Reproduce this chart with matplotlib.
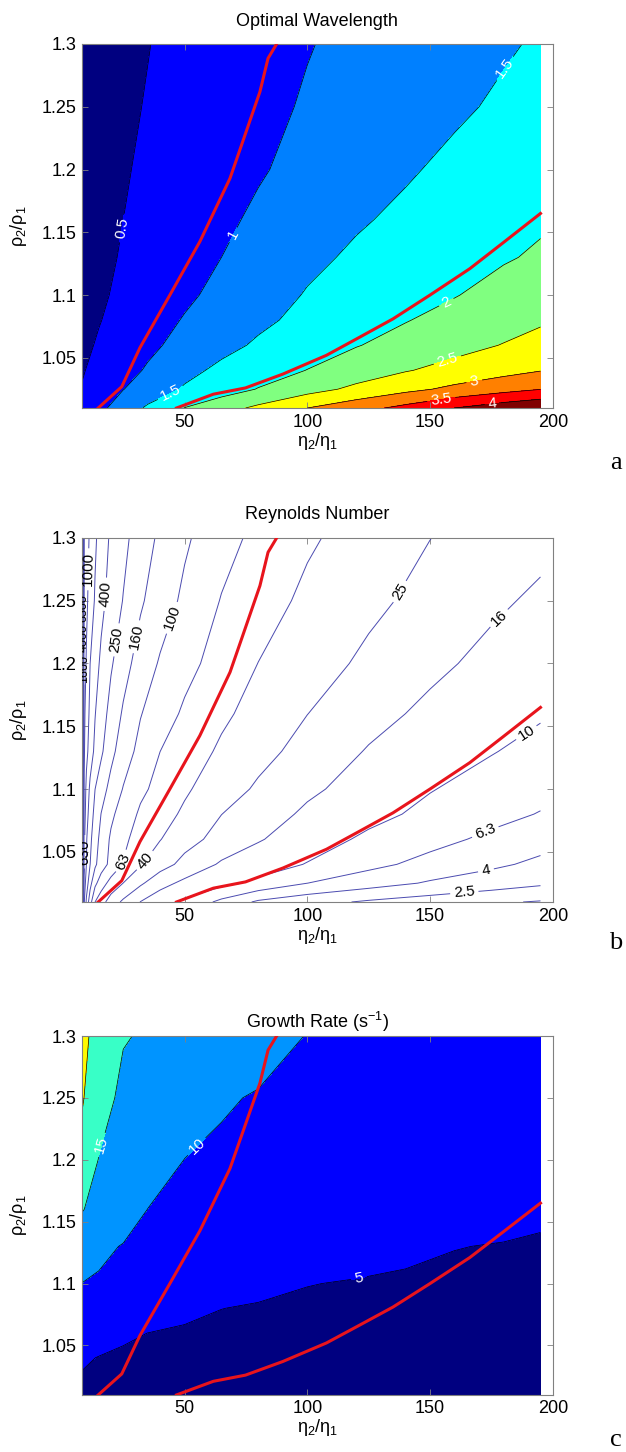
import numpy as np
import matplotlib
matplotlib.use("Agg")
import matplotlib.pyplot as plt

plt.rcParams["font.family"] = ["Liberation Sans", "DejaVu Sans"]
plt.rcParams["mathtext.fontset"] = "custom"
plt.rcParams["mathtext.rm"] = "Liberation Sans"
plt.rcParams["mathtext.it"] = "Liberation Sans:italic"
plt.rcParams["mathtext.default"] = "regular"

# sample grid: viscosity ratio (columns) x density ratio (rows)
eta_ratio = np.array([8.2, 15, 25, 35, 50, 65, 80, 100, 120, 140, 160, 180, 195])
rho_ratio = np.array([1.01, 1.025, 1.04, 1.06, 1.08, 1.1, 1.13, 1.16, 1.2, 1.25, 1.3])

# optimal wavelength
wavelength = np.array([
    [0.62, 0.87, 1.24, 1.57, 2.01, 2.31, 2.60, 3.00, 3.31, 3.64, 4.00, 4.28, 4.45],
    [0.52, 0.71, 0.99, 1.22, 1.55, 1.78, 2.02, 2.32, 2.61, 2.87, 3.11, 3.33, 3.49],
    [0.47, 0.62, 0.84, 1.05, 1.37, 1.60, 1.78, 2.01, 2.24, 2.47, 2.66, 2.84, 2.98],
    [0.41, 0.54, 0.72, 0.90, 1.15, 1.37, 1.56, 1.77, 1.98, 2.16, 2.34, 2.52, 2.66],
    [0.37, 0.48, 0.64, 0.80, 1.03, 1.22, 1.41, 1.62, 1.80, 1.98, 2.15, 2.31, 2.44],
    [0.34, 0.44, 0.58, 0.72, 0.92, 1.12, 1.30, 1.53, 1.68, 1.83, 1.98, 2.16, 2.29],
    [0.33, 0.41, 0.53, 0.65, 0.83, 1.00, 1.17, 1.40, 1.57, 1.70, 1.83, 1.96, 2.06],
    [0.32, 0.39, 0.50, 0.60, 0.76, 0.92, 1.07, 1.26, 1.45, 1.59, 1.72, 1.85, 1.94],
    [0.32, 0.38, 0.47, 0.56, 0.69, 0.83, 0.96, 1.13, 1.29, 1.45, 1.60, 1.73, 1.83],
    [0.31, 0.36, 0.44, 0.52, 0.65, 0.77, 0.89, 1.04, 1.17, 1.30, 1.43, 1.57, 1.69],
    [0.29, 0.34, 0.42, 0.49, 0.61, 0.72, 0.83, 0.98, 1.10, 1.22, 1.33, 1.45, 1.55],
])

# growth rate (1/s)
growth_rate = np.array([
    [4.60, 4.50, 4.36, 4.28, 4.18, 4.08, 3.98, 3.85, 3.72, 3.59, 3.46, 3.33, 3.22],
    [4.82, 4.70, 4.50, 4.42, 4.32, 4.22, 4.12, 3.99, 3.86, 3.73, 3.60, 3.47, 3.35],
    [5.40, 4.90, 4.62, 4.55, 4.45, 4.35, 4.25, 4.12, 3.99, 3.86, 3.73, 3.60, 3.47],
    [7.06, 6.53, 5.40, 4.99, 4.50, 4.35, 4.25, 4.15, 4.05, 3.95, 3.87, 3.80, 3.77],
    [8.53, 8.11, 7.49, 6.88, 5.96, 5.03, 4.75, 4.68, 4.58, 4.46, 4.32, 4.18, 4.07],
    [9.95, 9.64, 9.11, 8.58, 7.78, 6.99, 5.80, 5.05, 4.88, 4.74, 4.61, 4.47, 4.37],
    [12.7, 10.7, 9.83, 9.30, 8.50, 7.80, 7.10, 6.40, 5.80, 5.40, 5.05, 4.90, 4.82],
    [15.2, 13.76, 11.77, 9.97, 9.53, 9.09, 8.65, 8.07, 7.49, 6.90, 6.32, 5.74, 5.30],
    [18.6, 14.87, 13.41, 11.95, 9.96, 9.54, 9.13, 8.58, 8.02, 7.47, 6.92, 6.37, 5.95],
    [20.4, 17.08, 13.9, 13.5, 12.06, 10.3, 9.78, 9.26, 8.74, 8.22, 7.69, 7.17, 6.78],
    [21.0, 18.6, 15.3, 14.48, 13.42, 12.36, 11.3, 9.90, 9.30, 8.80, 8.30, 7.90, 7.60],
])

# Reynolds number (log10), finer columns near the left edge
eta_ratio_re = np.array([8.2, 9, 10, 11.5, 13.5, 16, 20, 25, 32, 40, 50, 65, 80,
                         100, 125, 150, 175, 195])
log10_reynolds = np.array([
    [5.0, 2.64, 2.36, 2.08, 1.80, 1.68, 1.51, 1.36, 1.20, 1.09, 0.96, 0.75, 0.57, 0.47, 0.37, 0.30, 0.23, 0.19],
    [5.0, 2.74, 2.50, 2.27, 2.05, 1.89, 1.73, 1.60, 1.43, 1.27, 1.16, 1.06, 0.95, 0.80, 0.69, 0.58, 0.50, 0.43],
    [5.0, 2.88, 2.60, 2.40, 2.24, 2.10, 1.94, 1.79, 1.62, 1.48, 1.34, 1.18, 1.10, 0.99, 0.85, 0.74, 0.64, 0.56],
    [5.0, 2.87, 2.62, 2.44, 2.29, 2.14, 1.97, 1.84, 1.72, 1.61, 1.47, 1.33, 1.22, 1.10, 0.96, 0.86, 0.76, 0.68],
    [5.0, 2.93, 2.69, 2.50, 2.34, 2.20, 2.04, 1.91, 1.77, 1.68, 1.57, 1.40, 1.30, 1.17, 1.06, 0.95, 0.86, 0.79],
    [5.0, 2.97, 2.74, 2.56, 2.40, 2.29, 2.14, 1.99, 1.84, 1.74, 1.63, 1.49, 1.37, 1.24, 1.12, 1.01, 0.92, 0.86],
    [5.0, 3.04, 2.86, 2.70, 2.56, 2.43, 2.26, 2.10, 1.94, 1.80, 1.71, 1.57, 1.46, 1.33, 1.19, 1.10, 1.01, 0.94],
    [5.0, 3.06, 2.91, 2.75, 2.61, 2.49, 2.33, 2.18, 2.01, 1.89, 1.77, 1.64, 1.53, 1.40, 1.27, 1.16, 1.08, 1.02],
    [5.0, 3.09, 2.98, 2.80, 2.69, 2.56, 2.42, 2.28, 2.12, 1.98, 1.86, 1.72, 1.60, 1.48, 1.36, 1.25, 1.15, 1.08],
    [5.0, 3.12, 3.04, 2.92, 2.78, 2.66, 2.52, 2.39, 2.23, 2.10, 1.96, 1.79, 1.69, 1.56, 1.44, 1.34, 1.24, 1.17],
    [5.0, 3.20, 3.07, 2.97, 2.83, 2.71, 2.57, 2.45, 2.30, 2.17, 2.03, 1.87, 1.75, 1.63, 1.51, 1.40, 1.32, 1.26],
])

wl_levels = [0.5, 1, 1.5, 2, 2.5, 3, 3.5, 4]
gr_levels = [5, 10, 15, 20]
re_levels = [1.6, 2.5, 4, 6.3, 10, 16, 25, 40, 63, 100, 160, 250, 400, 630, 1000,
             1600, 2500, 4000, 6300, 10000, 16000, 25000, 40000, 63000]

# two boundary curves drawn on every panel
curve1_eta = [14.8, 24.4, 31.8, 44.0, 56.2, 68.5, 73.2, 80.7, 84.0, 87.5]
curve1_rho = [1.01, 1.027, 1.058, 1.10, 1.1425, 1.193, 1.2195, 1.262, 1.2886, 1.30]
curve2_eta = [46.7, 61.7, 74.8, 90.0, 107.8, 120.0, 134.9, 150.0, 166.2, 180.0, 195.0]
curve2_rho = [1.01, 1.021, 1.026, 1.037, 1.052, 1.065, 1.081, 1.10, 1.121, 1.142, 1.165]


def jet(v):
    # classic piecewise-linear jet
    c = lambda t: float(np.clip(t, 0, 1))
    return (c(min(4 * v - 1.5, -4 * v + 4.5)),
            c(min(4 * v - 0.5, -4 * v + 3.5)),
            c(min(4 * v + 0.5, -4 * v + 2.5)))


fig = plt.figure(figsize=(6.26, 14.52), dpi=100)

L, W = 0.131, 0.752
ax_a = fig.add_axes([L, 0.719, W, 0.2507])
ax_b = fig.add_axes([L, 0.3788, W, 0.2507])
ax_c = fig.add_axes([L, 0.0393, W, 0.2472])


def style(ax, title, pad):
    ax.set_xlim(8.2, 200)
    ax.set_ylim(1.01, 1.3)
    ax.set_xticks([50, 100, 150, 200])
    ax.set_yticks([1.05, 1.1, 1.15, 1.2, 1.25, 1.3])
    ax.set_yticklabels(["1.05", "1.1", "1.15", "1.2", "1.25", "1.3"])
    ax.tick_params(direction="in", top=True, right=True, length=4, width=0.6,
                   color="#808080", labelsize=13, pad=4)
    for s in ax.spines.values():
        s.set_color("#808080")
        s.set_linewidth(0.8)
    ax.set_title(title, fontsize=13, pad=pad)
    ax.set_xlabel(r"$\eta_2/\eta_1$", fontsize=13, labelpad=0)
    ax.set_ylabel(r"$\rho_2/\rho_1$", fontsize=13, labelpad=9)
    ax.plot(curve1_eta, curve1_rho, color="#e8141c", lw=2.2, zorder=5)
    ax.plot(curve2_eta, curve2_rho, color="#e8141c", lw=2.2, zorder=5)


def lines_with_labels(ax, x, y, z, levels, names, spots, line_color, lw, text_color,
                      size=11):
    # one contour set per level so each label lands on its own line
    sets = {}
    for lev, name in zip(levels, names):
        sets[name] = ax.contour(x, y, z, levels=[lev], colors=line_color, linewidths=lw)
    for name, px, py in spots:
        sets[name].clabel(manual=[(px, py)], inline=True, fontsize=size, colors=text_color,
                          fmt={levels[names.index(name)]: "%g" % name}, inline_spacing=4)


# (a) optimal wavelength
ax = ax_a
fill_a = [jet(i / 8) for i in range(9)]
ax.contourf(eta_ratio, rho_ratio, wavelength, levels=[0] + wl_levels + [5], colors=fill_a)
lines_with_labels(ax, eta_ratio, rho_ratio, wavelength, wl_levels, wl_levels,
                  [(0.5, 25.7, 1.153), (1, 69.8, 1.148), (1.5, 44.7, 1.02),
                   (1.5, 182.9, 1.277), (2, 157.2, 1.092), (2.5, 157.4, 1.046),
                   (3, 168.3, 1.028), (3.5, 154.7, 1.015), (4, 175.6, 1.012)],
                  "k", 0.5, "w")
style(ax, "Optimal Wavelength", 13)

# (b) Reynolds number
ax = ax_b
log_levels = list(np.log10(re_levels))
lines_with_labels(ax, eta_ratio_re, rho_ratio, log10_reynolds, log_levels, re_levels,
                  [(1000, 11.5, 1.275), (400, 19.0, 1.255), (250, 21.6, 1.219),
                   (160, 31.1, 1.221), (100, 46.8, 1.235), (63, 25.0, 1.042),
                   (40, 33.8, 1.043), (25, 136.6, 1.2586), (16, 178.8, 1.2347),
                   (10, 189.4, 1.1444), (6.3, 173.0, 1.0633), (4, 173.0, 1.0328),
                   (2.5, 164.1, 1.0142), (630, 9.3, 1.05)],
                  "#4b4bb0", 0.7, "k")
# stacked labels on the crowded lines at the left edge
for v, py in ((1600, 1.196), (4000, 1.22), (6300, 1.244)):
    ax.clabel(ax.contour(eta_ratio_re, rho_ratio, log10_reynolds,
                         levels=[np.log10(v)], colors="#4b4bb0", linewidths=0.7),
              manual=[(8.6, py)], inline=True, fontsize=9, colors="k",
              fmt={np.log10(v): "%g" % v}, inline_spacing=2)
style(ax, "Reynolds Number", 14)

# (c) growth rate
ax = ax_c
fill_c = [jet(0.0), jet(0.125), jet(0.27), jet(0.43), jet(0.63)]
ax.contourf(eta_ratio, rho_ratio, growth_rate, levels=[0] + gr_levels + [30], colors=fill_c)
lines_with_labels(ax, eta_ratio, rho_ratio, growth_rate, gr_levels, gr_levels,
                  [(15, 16.2, 1.212), (10, 52.9, 1.215), (5, 120.7, 1.108)],
                  "k", 0.5, "w")
style(ax, r"Growth Rate (s$^{-1}$)", 6)

for letter, y in (("a", 0.681), ("b", 0.3506), ("c", 0.0083)):
    fig.text(0.984, y, letter, family="Liberation Serif", fontsize=19,
             ha="center", va="center")

fig.savefig("out.png", dpi=100)
